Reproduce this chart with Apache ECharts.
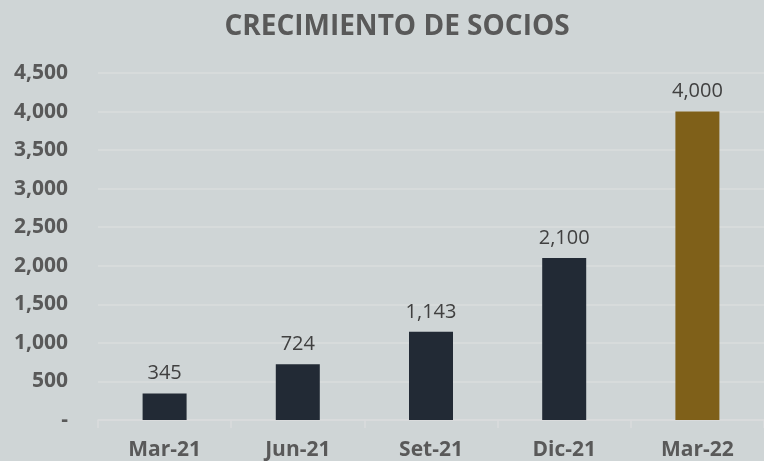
<!DOCTYPE html>
<html>
<head>
<meta charset="utf-8">
<script src="https://cdn.jsdelivr.net/npm/echarts@6/dist/echarts.min.js"></script>
<style>
  html, body { margin: 0; padding: 0; background: #cfd5d6; }
  #chart { width: 764px; height: 461px; }
</style>
</head>
<body>
<div id="chart"></div>
<script>
const categories = ['Mar-21', 'Jun-21', 'Set-21', 'Dic-21', 'Mar-22']
const socios = [345, 724, 1143, 2100, 4000]
const barColors = ['#222a35', '#222a35', '#222a35', '#222a35', '#7f6019']

const fmt = v => v === 0 ? '-' : v.toLocaleString('en-US')

const chart = echarts.init(document.getElementById('chart'))
chart.setOption({
  backgroundColor: '#cfd5d6',
  animation: false,
  title: {
    text: 'CRECIMIENTO DE SOCIOS',
    left: 392,
    textAlign: 'center',
    top: 8,
    textStyle: {
      color: '#595959',
      fontSize: 28,
      fontWeight: 'bold',
      fontFamily: 'Open Sans'
    }
  },
  grid: {
    left: 98,
    top: 73,
    width: 672,
    bottom: 41,
    containLabel: false
  },
  xAxis: {
    type: 'category',
    data: categories,
    axisLine: { lineStyle: { color: '#dadcdd', width: 1.5 } },
    axisTick: { show: true, length: 8, lineStyle: { color: '#dadcdd', width: 1.5 } },
    axisLabel: {
      color: '#595959',
      fontSize: 21,
      fontWeight: 'bold',
      fontFamily: 'Open Sans',
      margin: 20
    }
  },
  yAxis: {
    type: 'value',
    min: 0,
    max: 4500,
    interval: 500,
    axisLine: { show: false },
    axisTick: { show: false },
    splitLine: { lineStyle: { color: '#dadcdd', width: 1.5 } },
    axisLabel: {
      color: '#595959',
      fontSize: 21,
      fontWeight: 'bold',
      fontFamily: 'Open Sans',
      margin: 30,
      formatter: fmt
    }
  },
  series: [{
    type: 'bar',
    barWidth: 44,
    data: socios.map((v, i) => ({ value: v, itemStyle: { color: barColors[i] } })),
    label: {
      show: true,
      position: 'top',
      distance: 10,
      color: '#404040',
      fontSize: 20,
      fontFamily: 'Open Sans',
      formatter: p => fmt(p.value)
    }
  }]
})
</script>
</body>
</html>
